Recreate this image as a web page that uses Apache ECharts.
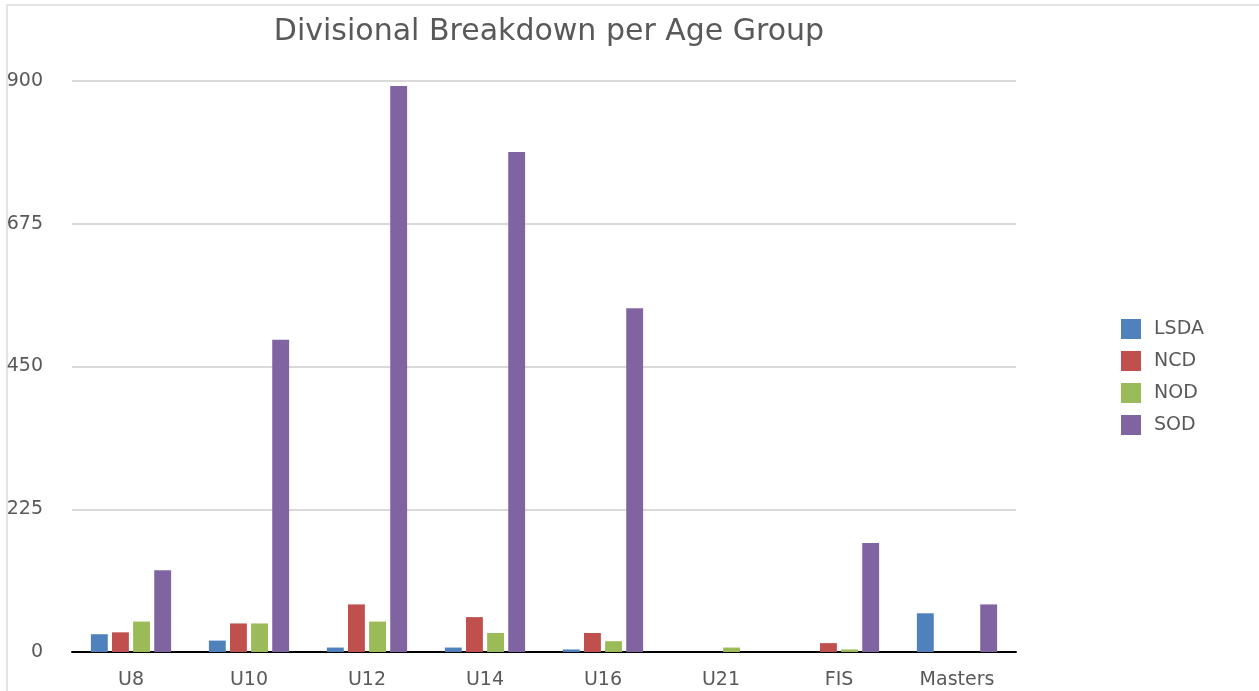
<!DOCTYPE html>
<html>
<head>
    <meta charset="utf-8">
    <title>Divisional Breakdown per Age Group</title>
    <script src="https://cdn.jsdelivr.net/npm/echarts@6/dist/echarts.min.js"></script>
</head>
<body style="margin:0;">
    <div id="main" style="width:1259px;height:691px;"></div>
    <script type="text/javascript">
        // age groups and counts per division
        var groups = ['U8', 'U10', 'U12', 'U14', 'U16', 'U21', 'FIS', 'Masters'];
        var lsda = [28, 18, 7, 7, 4, 0, 0, 61];
        var ncd = [31, 45, 75, 55, 30, 0, 14, 0];
        var nod = [48, 45, 48, 30, 17, 7, 4, 0];
        var sod = [129, 492, 892, 788, 542, 0, 172, 75];
        var yTicks = [0, 225, 450, 675, 900];

        var echart = echarts.init(document.getElementById('main'));
        var font = '"DejaVu Sans", sans-serif';
        var option = {
            backgroundColor: '#fff',
            textStyle: {fontFamily: font},
            title: {
                text: 'Divisional Breakdown per Age Group',
                left: 544, top: 12, textAlign: 'center',
                textStyle: {fontSize: 30, fontWeight: 'normal', color: '#595959', fontFamily: font}
            },
            graphic: [{
                type: 'rect', shape: {x: 7, y: 5, width: 1400, height: 900},
                style: {fill: 'none', stroke: '#e3e3e3', lineWidth: 2}, silent: true
            }],
            grid: {left: 72, right: 243, top: 81, bottom: 39, outerBoundsMode: 'none', containLabel: false},
            legend: {
                data: ['LSDA', 'NCD', 'NOD', 'SOD'],
                orient: 'vertical', left: 1121, top: 319, padding: 0,
                itemWidth: 20, itemHeight: 20, itemGap: 12,
                icon: 'rect',
                textStyle: {fontSize: 19, color: '#595959', fontFamily: font, padding: [0, 0, 0, 8]}
            },
            xAxis: {
                type: 'category', data: groups,
                axisLine: {lineStyle: {color: '#000', width: 2}},
                axisTick: {show: false},
                axisLabel: {fontSize: 19, color: '#595959', margin: 19}
            },
            yAxis: {
                type: 'value', min: 0, max: 900, interval: 225,
                axisLabel: {
                    fontSize: 19, color: '#595959', align: 'right', margin: 29,
                    formatter: function (v) { return yTicks.indexOf(v) >= 0 ? String(v) : ''; }
                },
                splitLine: {lineStyle: {color: '#d9d9d9', width: 2}},
                axisLine: {show: false},
                axisTick: {show: false}
            },
            series: [
                {name: 'LSDA', type: 'bar', data: lsda, itemStyle: {color: '#4F81BD'}, barGap: '25%', barCategoryGap: '32%'},
                {name: 'NCD', type: 'bar', data: ncd, itemStyle: {color: '#C0504D'}},
                {name: 'NOD', type: 'bar', data: nod, itemStyle: {color: '#9BBB59'}},
                {name: 'SOD', type: 'bar', data: sod, itemStyle: {color: '#8064A2'}}
            ]
        };
        echart.setOption(option);
    </script>
</body>
</html>
